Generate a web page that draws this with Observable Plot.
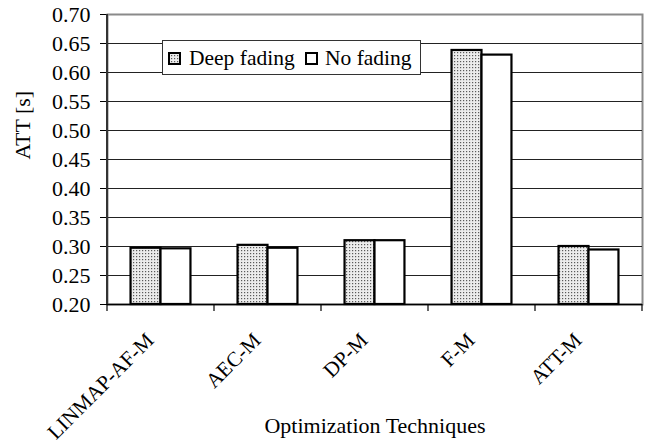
<!DOCTYPE html>
<html><head><meta charset="utf-8">
<script src="https://cdn.jsdelivr.net/npm/d3@7"></script>
<script src="https://cdn.jsdelivr.net/npm/@observablehq/plot@0.6"></script>
<style>
body{margin:0;background:#fff;}
#chart{position:relative;width:650px;height:447px;font-family:'Liberation Serif',serif;}
#chart svg text{font-family:'Liberation Serif',serif;}
#legend{position:absolute;left:162px;top:40px;width:257px;height:33px;border:1px solid #333;background:#fff;}
.sw{position:absolute;top:11px;width:9px;height:9px;border:2px solid #000;}
.sw svg{display:block;}
.lt{position:absolute;top:5px;font-family:'Liberation Serif',serif;font-size:21.5px;line-height:24px;color:#000;white-space:nowrap;}
</style></head><body><div id="chart"></div>
<script>
const categories = ["LINMAP-AF-M", "AEC-M", "DP-M", "F-M", "ATT-M"];
const seriesNames = ["Deep fading", "No fading"];
const deepFading = [0.297, 0.302, 0.310, 0.638, 0.300];
const noFading   = [0.296, 0.297, 0.310, 0.630, 0.294];
const yTicks = [0.20, 0.25, 0.30, 0.35, 0.40, 0.45, 0.50, 0.55, 0.60, 0.65, 0.70];
const xTitle = "Optimization Techniques";
const yTitle = "ATT [s]";

const W = 650, H = 447, mL = 107, mR = 8, mT = 14, mB = 143;
const rows = categories.flatMap((c, i) => [
  {cat: c, series: seriesNames[0], value: deepFading[i]},
  {cat: c, series: seriesNames[1], value: noFading[i]}
]);
const step = (W - mL - mR) / categories.length;
const barW = step * 0.28;
const yMin = yTicks[0], yMax = yTicks[yTicks.length - 1];
const FONT = "Liberation Serif";
const FS = 22;

const plot = Plot.plot({
  width: W, height: H,
  marginLeft: mL, marginRight: mR, marginTop: mT, marginBottom: mB,
  style: {fontFamily: FONT, fontSize: FS + "px", color: "#000", background: "#fff"},
  x: {type: "band", domain: categories, padding: 0, axis: null},
  y: {domain: [yMin, yMax], axis: null},
  marks: [
    Plot.frame({stroke: "#8a8a8a", strokeWidth: 2}),
    Plot.ruleY(yTicks.slice(1, -1), {stroke: "#222", strokeWidth: 1.2}),
    Plot.barY(rows.filter(d => d.series === seriesNames[0]), {
      x: "cat", y1: yMin, y2: "value", fill: "url(#dots)", stroke: "#000", strokeWidth: 2.2,
      insetLeft: step / 2 - barW, insetRight: step / 2
    }),
    Plot.barY(rows.filter(d => d.series === seriesNames[1]), {
      x: "cat", y1: yMin, y2: "value", fill: "#fff", stroke: "#000", strokeWidth: 2.2,
      insetLeft: step / 2, insetRight: step / 2 - barW
    }),
    Plot.ruleY([yMin], {stroke: "#000", strokeWidth: 1.5}),
    Plot.axisY({ticks: yTicks, tickFormat: d => d.toFixed(2), tickSize: 7, tickPadding: 10, fontSize: FS, fontFamily: FONT, fontVariant: "normal", label: null}),
    Plot.text(categories, {x: d => d, y: yMin, text: d => d, rotate: -45, textAnchor: "end", lineAnchor: "bottom", dx: -6, dy: 37, fontSize: 21, fontFamily: FONT}),
    Plot.text([yTitle], {frameAnchor: "left", rotate: -90, dx: -85, fontSize: FS, fontFamily: FONT}),
    Plot.text([xTitle], {frameAnchor: "bottom", dy: 128, fontSize: FS, fontFamily: FONT})
  ]
});

// pattern definition for the dotted fill
const svg = d3.select(plot);
const defs = svg.insert("defs", ":first-child");
const pat = defs.append("pattern").attr("id", "dots").attr("patternUnits", "userSpaceOnUse")
  .attr("width", 3).attr("height", 3);
pat.append("rect").attr("width", 3).attr("height", 3).attr("fill", "#ececec");
pat.append("rect").attr("x", 1).attr("y", 1).attr("width", 1.2).attr("height", 1.2).attr("fill", "#5a5a5a");

// category boundary ticks and left axis line, placed with the plot's x scale
const xs = plot.scale("x");
const ys = plot.scale("y");
const y0 = ys.apply(yMin), y1 = ys.apply(yMax);
const g = svg.append("g").attr("stroke", "#000");
const bounds = categories.map(c => xs.apply(c));
bounds.push(xs.apply(categories[categories.length - 1]) + xs.bandwidth);
bounds.forEach(b => g.append("line").attr("x1", b).attr("x2", b).attr("y1", y0).attr("y2", y0 + 7).attr("stroke-width", 1.2));
g.append("line").attr("x1", bounds[0]).attr("x2", bounds[0]).attr("y1", y1).attr("y2", y0).attr("stroke", "#333").attr("stroke-width", 2);

const chart = document.getElementById("chart");
chart.appendChild(plot);

// legend inside the plot area
const legend = document.createElement("div");
legend.id = "legend";
const legendPos = [{sw: 5, tx: 26}, {sw: 142, tx: 162}];
seriesNames.forEach((name, i) => {
  const sw = document.createElement("div");
  sw.className = "sw";
  sw.style.left = legendPos[i].sw + "px";
  sw.innerHTML = `<svg width="9" height="9"><rect width="9" height="9" fill="${i === 0 ? "url(#dots)" : "#fff"}"/></svg>`;
  legend.appendChild(sw);
  const t = document.createElement("div");
  t.className = "lt";
  t.style.left = legendPos[i].tx + "px";
  t.textContent = name;
  legend.appendChild(t);
});
chart.appendChild(legend);
</script>
</body></html>
